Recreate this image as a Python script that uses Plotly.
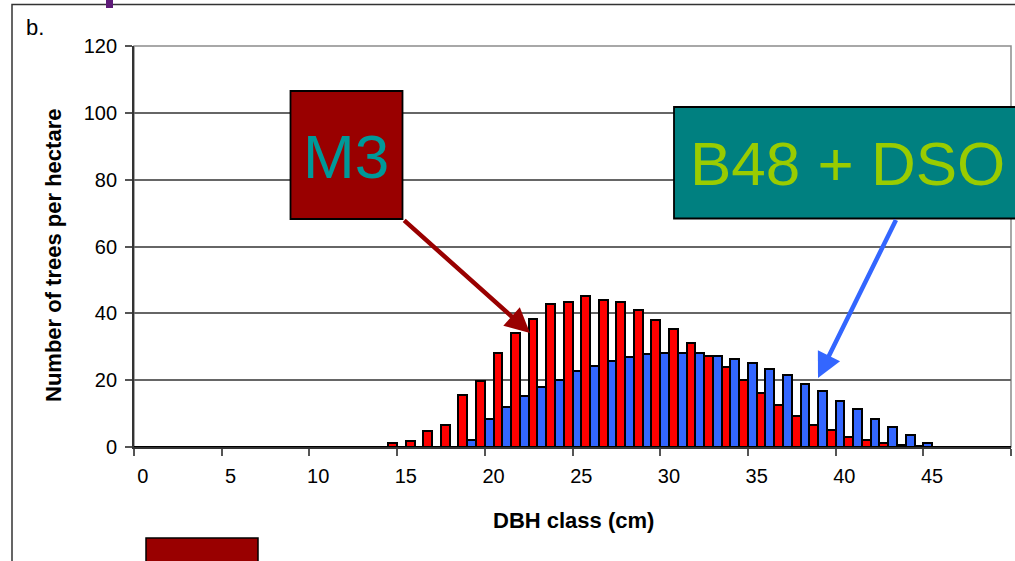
import plotly.graph_objects as go

# ---- data -------------------------------------------------------------
dbh_classes = list(range(50))
tick_labels = ["0", "5", "10", "15", "20", "25", "30", "35", "40", "45"]

b48_dso = [0]*19 + [2.2, 8.3, 11.9, 15.4, 17.9, 20.2, 22.6, 24.3, 25.6, 26.8,
                    27.9, 28.1, 28.1, 28.1, 27.3, 26.2, 25.0, 23.3, 21.4, 19.0,
                    16.7, 13.8, 11.3, 8.3, 5.9, 3.6, 1.3] + [0]*4
m3 = [0]*14 + [1.1, 1.7, 4.7, 6.5, 15.6, 19.9, 28.1, 34.1, 38.2, 42.9,
               43.5, 45.3, 44.1, 43.5, 41.1, 38.1, 35.2, 31.1, 27.3, 23.8,
               20.2, 16.1, 12.6, 9.4, 6.5, 5.2, 2.9, 2.2, 1.3, 0.7, 0.3, 0] + [0]*4

# ---- layout helpers -----------------------------------------------------
W, H = 1015, 561
L, R, T, B = 134, 4, 46, 114
PW, PH = W - L - R, H - T - B

def px(x):
    return (x - L) / PW

def py(y):
    return (H - B - y) / PH

FONT = "Arial, Liberation Sans, sans-serif"

fig = go.Figure()
fig.add_trace(go.Bar(x=dbh_classes, y=b48_dso, name="B48 + DSO",
                     marker=dict(color="#3366FF", line=dict(color="black", width=2))))
fig.add_trace(go.Bar(x=dbh_classes, y=m3, name="M3",
                     marker=dict(color="#FF0000", line=dict(color="black", width=2))))

shapes = [
    # plot-area border (grey)
    dict(type="rect", xref="paper", yref="paper", x0=0, x1=1, y0=0, y1=1,
         line=dict(color="#8c8c8c", width=1.5), layer="below"),
    # outer frame
    dict(type="rect", xref="paper", yref="paper", x0=px(12), x1=px(1040),
         y0=py(600), y1=py(4.5), line=dict(color="#333333", width=1.5)),
    # purple marker at top
    dict(type="rect", xref="paper", yref="paper", x0=px(106), x1=px(113),
         y0=py(8), y1=py(-5), line=dict(width=0), fillcolor="#5E1A78"),
    # dark red box at bottom
    dict(type="rect", xref="paper", yref="paper", x0=px(146), x1=px(258),
         y0=py(600), y1=py(538), line=dict(color="black", width=1.5), fillcolor="#990000"),
    # M3 box
    dict(type="rect", xref="paper", yref="paper", x0=px(290.5), x1=px(402.5),
         y0=py(219), y1=py(91), line=dict(color="black", width=1.8), fillcolor="#990000"),
    # B48 + DSO box
    dict(type="rect", xref="paper", yref="paper", x0=px(674), x1=px(1030),
         y0=py(218.5), y1=py(107), line=dict(color="black", width=1.8), fillcolor="#008080"),
]

def label(text, x, y, size, color="black", angle=0, xanchor="center"):
    return dict(text=text, xref="paper", yref="paper", x=px(x), y=py(y),
                xanchor=xanchor, yanchor="middle", textangle=angle,
                showarrow=False, font=dict(family=FONT, size=size, color=color))

annotations = [
    label("M3", 346, 156, 62, "#009999"),
    label("B48 + DSO", 847, 163, 62, "#99CC00"),
    # arrows
    dict(text="", xref="paper", yref="paper", x=px(530), y=py(333),
         ax=402.7 - 530, ay=219 - 333, showarrow=True, arrowhead=2,
         arrowsize=1.1, arrowwidth=4.5, arrowcolor="#990000"),
    dict(text="", xref="paper", yref="paper", x=px(818), y=py(378),
         ax=896.7 - 818, ay=218.5 - 378, showarrow=True, arrowhead=2,
         arrowsize=1.1, arrowwidth=4.5, arrowcolor="#3366FF"),
    label("b.", 24, 28, 22, xanchor="left"),
    label("<b>Number of trees per hectare</b>", 53, 256, 22, angle=-90),
    label("<b>DBH class (cm)</b>", 573, 520, 22),
]

fig.update_layout(
    width=W, height=H,
    margin=dict(l=L, r=R, t=T, b=B, pad=0),
    paper_bgcolor="white", plot_bgcolor="white",
    barmode="group", bargap=0, bargroupgap=0,
    showlegend=False,
    shapes=shapes, annotations=annotations,
    font=dict(family=FONT, size=20, color="black"),
    xaxis=dict(
        range=[-0.5, 49.5], tickmode="array",
        tickvals=[int(t) for t in tick_labels], ticktext=tick_labels,
        ticks="", ticklabelstandoff=10,
        minor=dict(tickmode="linear", tick0=-0.5, dtick=5, ticks="outside",
                   ticklen=7, tickcolor="#555555", tickwidth=1.5, showgrid=False),
        showline=True, linecolor="#333333", linewidth=1.8,
        showgrid=False, zeroline=False,
        tickfont=dict(family=FONT, size=20, color="black"),
    ),
    yaxis=dict(
        range=[0, 120], tickmode="linear", tick0=0, dtick=20,
        ticks="outside", ticklen=7, tickcolor="#555555", tickwidth=1.5,
        ticklabelstandoff=4,
        showline=True, linecolor="#333333", linewidth=1.8,
        showgrid=True, gridcolor="#666666", gridwidth=1.5, zeroline=False,
        tickfont=dict(family=FONT, size=20, color="black"),
    ),
)

fig.write_html("out.html",
               config={"displayModeBar": False},
               post_script="document.body.style.margin='0px';"
                           "document.body.style.overflow='hidden';")
